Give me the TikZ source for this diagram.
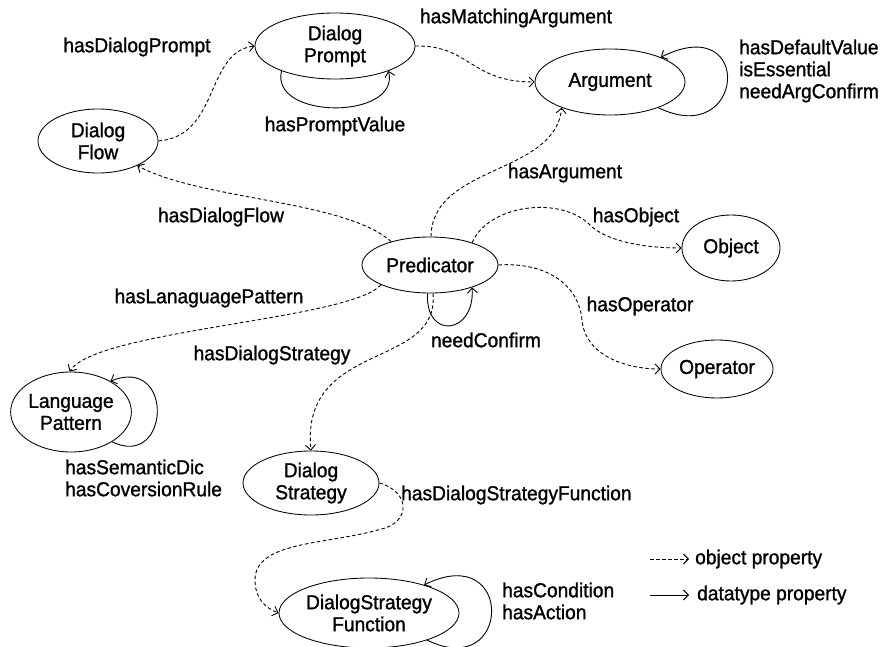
\documentclass[tikz,border=0pt]{standalone}
\usepackage{fontspec}
\setmainfont{Liberation Sans}[FakeStretch=0.95,FakeBold=1.2]
\usetikzlibrary{shapes.geometric,arrows.meta}
\newcommand{\dfont}{\fontsize{20.2}{22}\selectfont}
\tikzset{
  concept/.style={ellipse, draw, line width=0.85pt, inner sep=0pt, align=center, font=\dfont},
  lbl/.style={font=\dfont, inner sep=0pt, align=left},
  objprop/.style={draw, line width=0.9pt, dash pattern=on 3.5pt off 2.5pt, -{Straight Barb[length=5pt,width=10pt]}},
  dataprop/.style={draw, line width=0.9pt, -{Straight Barb[length=5pt,width=10pt]}}
}
\begin{document}
\begin{tikzpicture}[x=1pt,y=-1pt]
\useasboundingbox (0,0) rectangle (888,647);
% nodes
\node[concept, minimum width=160pt, minimum height=66pt] (prompt) at (335,46) {Dialog\\Prompt};
\node[concept, minimum width=120pt, minimum height=64pt] (flow) at (98,141) {Dialog\\Flow};
\node[concept, minimum width=150pt, minimum height=66pt] (arg) at (610,82) {Argument};
\node[concept, minimum width=136pt, minimum height=56pt] (pred) at (430,265) {Predicator};
\node[concept, minimum width=98pt, minimum height=66pt] (obj) at (731,248) {Object};
\node[concept, minimum width=112pt, minimum height=58pt] (oper) at (717,369) {Operator};
\node[concept, minimum width=118pt, minimum height=80pt] (lang) at (71,412) {Language\\Pattern};
\node[concept, minimum width=136pt, minimum height=64pt] (strat) at (311,483) {Dialog\\Strategy};
\node[concept, minimum width=180pt, minimum height=70pt] (func) at (369,613) {DialogStrategy\\Function};
% object properties
\draw[objprop] (flow.east) .. controls (220,136) and (205,52) .. (prompt.west);
\draw[objprop] (prompt.east) .. controls (470,45) and (470,82) .. (arg.west);
\draw[objprop] (pred.88) .. controls (432,165) and (555,175) .. (arg.208);
\draw[objprop] (pred.149) .. controls (345,200) and (200,200) .. (flow.-32);
\draw[objprop] (pred.202) .. controls (350,320) and (95,330) .. (lang.92);
\draw[objprop] (pred.-84) .. controls (440,370) and (300,340) .. (strat.north);
\draw[objprop] (pred.28) .. controls (488,205) and (560,195) .. (590,225) .. controls (605,240) and (640,248) .. (obj.west);
\draw[objprop] (pred.east) .. controls (540,262) and (578,280) .. (582,320) .. controls (585,355) and (625,369) .. (oper.west);
\draw[objprop] (strat.east) .. controls (410,492) and (410,520) .. (385,528) .. controls (330,545) and (255,540) .. (255,580) .. controls (255,598) and (265,608) .. (func.west);
% datatype properties (self loops)
\draw[dataprop] (prompt.205) .. controls (270,120) and (400,120) .. (prompt.-25);
\draw[dataprop] (arg.-28) .. controls (745,150) and (755,10) .. (arg.26);
\draw[dataprop] (pred.265) .. controls (425,340) and (475,335) .. (pred.-28);
\draw[dataprop] (lang.-36) .. controls (170,470) and (175,355) .. (lang.38);
\draw[dataprop] (func.-25) .. controls (512,682) and (515,540) .. (func.27);
% edge labels
\node[lbl] (l1) at (137,47) {hasDialogPrompt};
\node[lbl] (l2) at (516,18) {hasMatchingArgument};
\node[lbl] (l3) at (335,126) {hasPromptValue};
\node[lbl, anchor=west] (l4) at (739,71) {hasDefaultValue\\isEssential\\needArgConfirm};
\node[lbl] (l5) at (565,173) {hasArgument};
\node[lbl] (l6) at (221,217) {hasDialogFlow};
\node[lbl] (l7) at (636,217) {hasObject};
\node[lbl] (l8) at (209,298) {hasLanaguagePattern};
\node[lbl] (l9) at (640,306) {hasOperator};
\node[lbl] (l10) at (486,340) {needConfirm};
\node[lbl] (l11) at (272,355) {hasDialogStrategy};
\node[lbl, anchor=west] (l12) at (65,478) {hasSemanticDic\\hasCoversionRule};
\node[lbl, anchor=west] (l13) at (401,495) {hasDialogStrategyFunction};
\node[lbl, anchor=west] (l14) at (502,601) {hasCondition\\hasAction};
% legend
\coordinate (la1) at (650,559);
\coordinate (la2) at (689,559);
\coordinate (lb1) at (650,595);
\coordinate (lb2) at (689,595);
\draw[objprop] (la1) -- (la2);
\draw[dataprop] (lb1) -- (lb2);
\node[lbl, anchor=west] (lg1) at (695,559) {object property};
\node[lbl, anchor=west] (lg2) at (697,595) {datatype property};
\end{tikzpicture}
\end{document}
